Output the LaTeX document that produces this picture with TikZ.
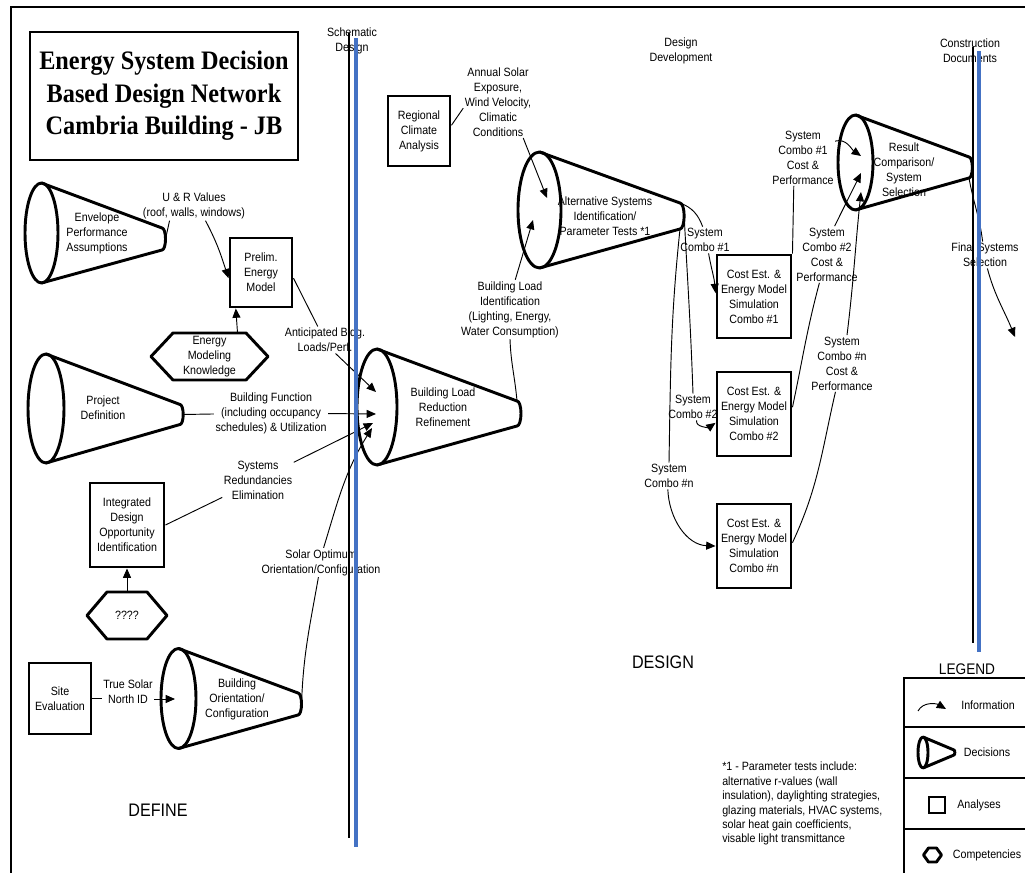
\documentclass[tikz,border=0pt]{standalone}
\usepackage{fontspec}
\setmainfont{Liberation Sans}[FakeStretch=0.89]
\newfontfamily\titlefont{Liberation Serif}[FakeStretch=0.91]
\usetikzlibrary{arrows.meta}
\definecolor{phaseblue}{RGB}{68,114,196}
\newcommand{\lblfont}{\fontsize{9}{11.25}\selectfont}

\tikzset{
  shapeline/.style={line width=2.2pt, line join=round},
  box/.style 2 args={draw, line width=2.2pt, inner sep=0pt, align=center, font=\lblfont,
    minimum width=#1*0.75pt, minimum height=#2*0.75pt},
  lbl/.style={font=\lblfont, align=center, inner sep=1pt},
  sect/.style={font=\fontsize{13.6}{16}\selectfont, inner sep=0pt},
  link/.style={line width=0.7pt},
  info/.style={line width=0.7pt, -{Triangle[length=7pt,width=6pt]}},
  phaseline/.style={line width=2pt},
  phasemark/.style={phaseblue, line width=3pt},
}

% decision cone: name, ellipse centre x, y, radii rx, ry, tip x, y, tip half height
\newcommand{\decision}[8]{%
  \draw[shapeline] (#2,#3) ellipse[x radius=#4*0.75pt, y radius=#5*0.75pt];
  \draw[shapeline] (#2,#3-#5) -- (#6,#7-#8)
     arc[start angle=90, end angle=-90, x radius=#8*0.32*0.75pt, y radius=#8*0.75pt]
     -- (#2,#3+#5);
  \coordinate (#1-out) at (#6+#8*0.32,#7);
  \coordinate (#1-out-n) at (#6,#7-#8);
  \coordinate (#1-out-s) at (#6,#7+#8);
}
% competency hexagon: name, centre x, y, width, height, point inset, text
\newcommand{\competency}[7]{%
  \node[lbl, inner sep=0pt, outer sep=0pt, minimum width=#4*0.75pt, minimum height=#5*0.75pt] (#1) at (#2,#3) {#7};
  \draw[shapeline] (#1.west) -- ([xshift=#6*0.75pt]#1.north west) -- ([xshift=-#6*0.75pt]#1.north east)
    -- (#1.east) -- ([xshift=-#6*0.75pt]#1.south east) -- ([xshift=#6*0.75pt]#1.south west) -- cycle;
}

\begin{document}
\begin{tikzpicture}[x=0.75pt,y=-0.75pt]
\clip (0,0) rectangle (1025,873);

% outer frame
\draw[line width=2pt] (11,880) -- (11,7) -- (1030,7);

% title
\node[draw, line width=2.2pt, minimum width=268*0.75pt, minimum height=128*0.75pt, align=center,
  font=\titlefont\bfseries\fontsize{20}{24.5}\selectfont] (title) at (164,96)
  {Energy System Decision\\Based Design Network\\Cambria Building - JB};

% phase labels
\node[lbl] (phSD) at (352,40.5) {Schematic\\Design};
\node[lbl] (phDD) at (681,51) {Design\\Development};
\node[lbl] (phCD) at (970,51) {Construction\\Documents};

% section labels
\node[sect] (define) at (158,810) {DEFINE};
\node[sect] (design) at (663,662) {DESIGN};
\node[font=\fontsize{11.5}{14}\selectfont, inner sep=0pt] (legend) at (967,669) {LEGEND};

% decisions
\decision{env}{41.5}{233}{16.5}{50}{162}{239}{11}
\node[lbl] (env) at (97,233) {Envelope\\Performance\\Assumptions};
\decision{proj}{46}{408.5}{18}{54.5}{180}{414.5}{10}
\node[lbl] (proj) at (103,408) {Project\\Definition};
\decision{orient}{178.5}{698.5}{17.5}{50}{298}{704}{11}
\node[lbl] (orient) at (237,699) {Building\\Orientation/\\Configuration};
\decision{blrr}{377}{407}{20}{58}{517}{413.5}{12.5}
\node[lbl] (blrr) at (443,407) {Building Load\\Reduction\\Refinement};
\decision{alt}{539.5}{210}{21.5}{58}{680}{216}{13}
\node[lbl] (alt) at (605,216) {Alternative Systems\\Identification/\\Parameter Tests *1};
\decision{result}{855.5}{162.5}{17.5}{47.5}{969}{167.5}{10.5}
\node[lbl] (result) at (904,170) {Result\\Comparison/\\System\\Selection};

% analyses
\node[box={62}{69}] (prelim) at (261,272.5) {Prelim.\\Energy\\Model};
\node[box={62}{70}] (regional) at (419,131) {Regional\\Climate\\Analysis};
\node[box={74}{84}] (integ) at (127,525) {Integrated\\Design\\Opportunity\\Identification};
\node[box={62}{71}] (site) at (60,698.5) {Site\\Evaluation};
\node[box={74}{83}] (cost1) at (754,296.5) {Cost Est. \&\\Energy Model\\Simulation\\Combo \#1};
\node[box={74}{84}] (cost2) at (754,414) {Cost Est. \&\\Energy Model\\Simulation\\Combo \#2};
\node[box={74}{84}] (costn) at (754,546) {Cost Est. \&\\Energy Model\\Simulation\\Combo \#n};

% competencies
\competency{hexE}{209.5}{356.5}{117}{47}{22}{Energy\\Modeling\\Knowledge}
\competency{hexQ}{127}{615.5}{80}{47}{20}{????}
\draw[info] (hexE.40.5) -- (prelim.-125);
\draw[info] (hexQ) -- (integ);

% arrow targets inside the decisions
\coordinate (blrr-a1) at (376,392);
\coordinate (blrr-a2) at (376,414);
\coordinate (blrr-a3) at (373,423);
\coordinate (blrr-a4) at (372,428);
\coordinate (alt-a1) at (547,198);
\coordinate (alt-a2) at (533,220);
\coordinate (result-a1) at (861,156);
\coordinate (result-a2) at (861,173);
\coordinate (result-a3) at (861,192);
\coordinate (orient-a) at (175,699);
\coordinate (fs-end) at (1015,337);

% information flows
\node[lbl] (lUR) at (194,206) {U \& R Values\\(roof, walls, windows)};
\draw[link] (env-out) -- (lUR.211);
\draw[info] (lUR.-52) to[out=-62,in=108] (prelim.190);

\node[lbl] (lAnt) at (325,340) {Anticipated Bldg.\\Loads/Perf.};
\draw[link] (prelim.-10) -- (lAnt.118);
\draw[info] (lAnt.-52) -- (blrr-a1);

\node[lbl] (lBF) at (271,413) {Building Function\\(including occupancy\\schedules) \& Utilization};
\draw[link] (proj-out) -- (lBF);
\draw[info] (lBF) -- (blrr-a2);

\node[lbl] (lSR) at (258,480) {Systems\\Redundancies\\Elimination};
\draw[link] (integ.east) -- (lSR);
\draw[info] (lSR) -- (blrr-a3);

\node[lbl] (lSO) at (321,562.5) {Solar Optimum\\Orientation/Configuration};
\draw[link] (orient-out) to[out=88,in=-100] (lSO.-100);
\draw[info] (lSO.80) to[out=73,in=-122] (blrr-a4);

\node[lbl] (lTS) at (128,691.5) {True Solar\\North ID};
\draw[link] (site.east) -- (site.east -| lTS.west);
\draw[info] (lTS.east |- orient-a) -- (orient-a);

\node[lbl] (lAS) at (498,102) {Annual Solar\\Exposure,\\Wind Velocity,\\Climatic\\Conditions};
\draw[link] (regional.10) -- (lAS.190);
\draw[info] (lAS.-55) -- (alt-a1);

\node[lbl] (lBL) at (510,309.5) {Building Load\\Identification\\(Lighting, Energy,\\Water Consumption)};
\draw[link] (blrr-out-n) to[out=95,in=-88] (lBL.south);
\draw[info] (lBL.80) -- (alt-a2);

\node[lbl] (lC1) at (705,240) {System\\Combo \#1};
\draw[link] (alt-out-n) to[out=-20,in=110] (lC1.100);
\draw[info] (lC1.-75) to[out=-80,in=95] (cost1.175);

\node[lbl] (lC2) at (693,407) {System\\Combo \#2};
\draw[link] (alt-out) to[out=-87,in=92] (lC2.north);
\draw[info] (lC2.-75) to[out=-100,in=215] (cost2.193);

\node[lbl] (lCn) at (669,476) {System\\Combo \#n};
\draw[link] (alt-out-s) to[out=-96,in=89] (lCn.north);
\draw[info] (lCn.-95) to[out=-88,in=178] (costn.west);

\node[lbl] (lC1P) at (803,157.5) {System\\Combo \#1\\Cost \&\\Performance};
\draw[link] (cost1.north east) -- (lC1P.-108);
\draw[info] (lC1P.27) to[out=15,in=145] (result-a1);

\node[lbl] (lC2P) at (827,254.5) {System\\Combo \#2\\Cost \&\\Performance};
\draw[link] (cost2.10) to[out=78,in=-105] (lC2P.-105);
\draw[info] (lC2P.75) -- (result-a2);

\node[lbl] (lCnP) at (842,363.5) {System\\Combo \#n\\Cost \&\\Performance};
\draw[link] (costn.5) to[out=65,in=-103] (lCnP.-103);
\draw[info] (lCnP.80) to[out=83,in=-96] (result-a3);

\node[lbl] (lFS) at (985,255) {Final Systems\\Selection};
\draw[link] (result-out-s) to[out=-80,in=97] (lFS.100);
\draw[info] (lFS.-80) to[out=-75,in=112] (fs-end);

% footnote
\node[anchor=north west, align=left, inner sep=0pt, font=\fontsize{9}{10.8}\selectfont] (note) at (722,762)
  {*1 - Parameter tests include:\\alternative r-values (wall\\insulation), daylighting strategies,\\glazing materials, HVAC systems,\\solar heat gain coefficients,\\visable light transmittance};

% legend
\draw[line width=2pt] (904,880) -- (904,678) -- (1030,678);
\draw[line width=2pt] (904,727) -- (1030,727);
\draw[line width=2pt] (904,778) -- (1030,778);
\draw[line width=2pt] (904,829) -- (1030,829);
\draw[info] (918,711) to[out=62,in=150] (946,709);
\node[lbl] (lgInfo) at (988,705) {Information};
\decision{lgc}{923}{752.5}{5}{15.5}{954}{752.5}{2.5}
\node[lbl] (lgDec) at (987,752) {Decisions};
\node[draw, line width=2pt, minimum size=16*0.75pt, inner sep=0pt] (lgsq) at (937,805) {};
\node[lbl] (lgAna) at (979,805) {Analyses};
\competency{lghex}{932.5}{855}{18}{14}{5}{}
\node[lbl] (lgComp) at (987,855) {Competencies};

% phase boundaries
\draw[phaseline] (349,33) -- (349,838);
\draw[phasemark] (356,38) -- (356,847);
\draw[phaseline] (973,47) -- (973,643);
\draw[phasemark] (979,51) -- (979,652);
\end{tikzpicture}
\end{document}
